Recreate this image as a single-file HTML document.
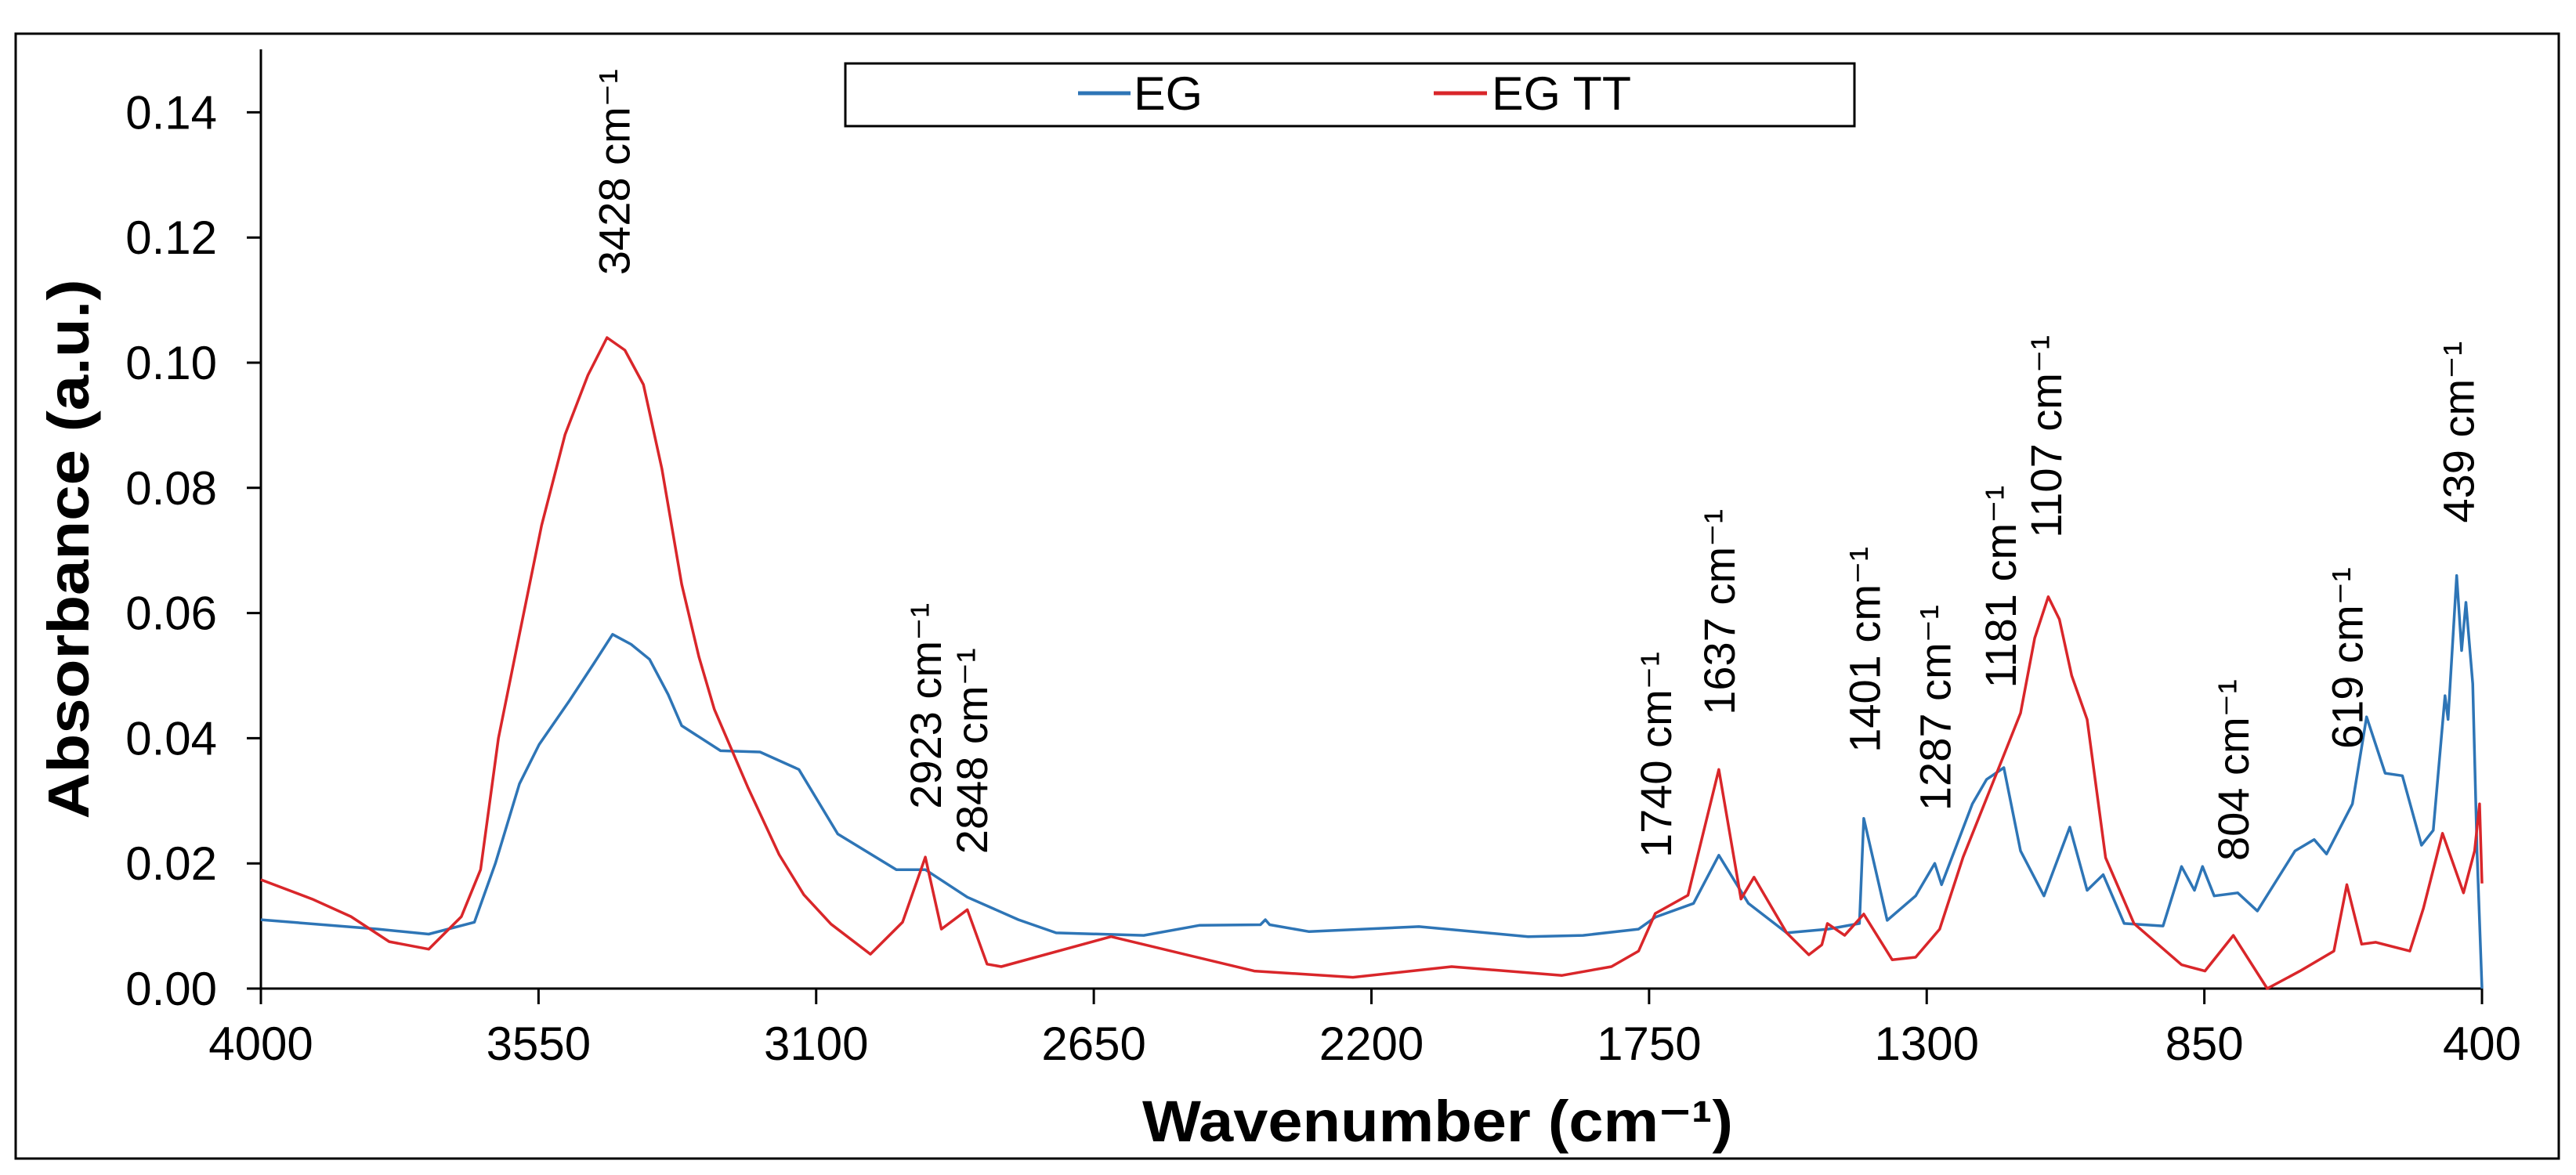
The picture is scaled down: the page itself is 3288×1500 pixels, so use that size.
<!DOCTYPE html>
<html><head><meta charset="utf-8"><style>
html,body{margin:0;padding:0;background:#fff;}
svg{display:block;font-family:"Liberation Sans",Arial,sans-serif;}
</style></head><body>
<svg id="chart" width="3288" height="1500" viewBox="0 0 3288 1500" xmlns="http://www.w3.org/2000/svg">
<rect x="20" y="43" width="3246" height="1436" fill="#fff" stroke="#000" stroke-width="3"/>
<g id="axes"></g>
<g id="series"></g>
<g id="annot"></g>
<g>
<rect x="1079" y="81" width="1288" height="80" fill="#fff" stroke="#000" stroke-width="3"/>
<line x1="1376" y1="119" x2="1443" y2="119" stroke="#2e75b6" stroke-width="5"/>
<text x="1447" y="140" font-size="60" textLength="88" lengthAdjust="spacingAndGlyphs">EG</text>
<line x1="1830" y1="119" x2="1898" y2="119" stroke="#d9262a" stroke-width="5"/>
<text x="1904" y="140" font-size="60" textLength="178" lengthAdjust="spacingAndGlyphs">EG TT</text>
</g>
<text transform="translate(113,701) rotate(-90)" text-anchor="middle" font-size="74" font-weight="bold" textLength="689" lengthAdjust="spacingAndGlyphs">Absorbance (a.u.)</text>
<text x="1458" y="1457" font-size="74" font-weight="bold" textLength="754" lengthAdjust="spacingAndGlyphs">Wavenumber (cm⁻¹)</text>
</svg>
<script>
const xTicks = [4000, 3550, 3100, 2650, 2200, 1750, 1300, 850, 400];
const yTicks = [0, 0.02, 0.04, 0.06, 0.08, 0.10, 0.12, 0.14];
const yTickLabels = ["0.00","0.02","0.04","0.06","0.08","0.10","0.12","0.14"];
const egWn = [4000,3810,3728,3654,3620,3581,3549,3500,3460,3430,3400,3370,3340,3318,3255,3191,3128,3065,2970,2923,2855,2772,2711,2569,2479,2380,2372,2365,2301,2123,1946,1857,1767,1740,1678,1637,1589,1527,1460,1409,1402,1364,1318,1287,1276,1226,1203,1175,1148,1110,1068,1040,1014,980,917,887,866,853,834,796,764,703,672,652,610,587,557,529,498,479,460,455,441,433,426,415,408,400];
const egVal = [0.011,0.0095,0.0087,0.0106,0.02,0.0327,0.039,0.046,0.052,0.0566,0.055,0.0526,0.047,0.042,0.038,0.0378,0.035,0.0247,0.019,0.019,0.0146,0.011,0.0089,0.0085,0.0101,0.0102,0.011,0.0102,0.0091,0.0099,0.0083,0.0085,0.0095,0.0114,0.0136,0.0213,0.0136,0.0089,0.0095,0.0104,0.0272,0.0109,0.0148,0.02,0.0166,0.0295,0.0334,0.0353,0.022,0.0148,0.0258,0.0157,0.0182,0.0104,0.01,0.0195,0.0157,0.0195,0.0148,0.0153,0.0124,0.022,0.0238,0.0215,0.0295,0.0434,0.0344,0.034,0.0229,0.0253,0.0468,0.043,0.066,0.054,0.0617,0.0487,0.0218,0.0];
const egttWn = [4000,3917,3854,3792,3728,3675,3644,3615,3581,3545,3507,3470,3439,3410,3380,3350,3318,3290,3265,3210,3160,3120,3076,3012,2960,2923,2897,2855,2823,2800,2622,2390,2230,2070,1891,1811,1767,1740,1687,1637,1601,1580,1527,1491,1470,1461,1433,1402,1356,1318,1279,1241,1179,1148,1125,1103,1085,1065,1040,1010,964,887,849,803,748,695,640,619,595,572,517,495,464,430,412,404,400];
const egttVal = [0.0174,0.0143,0.0115,0.0075,0.0063,0.0115,0.019,0.04,0.0566,0.074,0.0885,0.098,0.104,0.102,0.0965,0.083,0.0646,0.053,0.0446,0.032,0.0214,0.015,0.0103,0.0055,0.0106,0.021,0.0095,0.0126,0.0039,0.0035,0.0083,0.0028,0.0018,0.0035,0.0021,0.0035,0.006,0.012,0.0149,0.035,0.0143,0.0178,0.0089,0.0054,0.007,0.0104,0.0085,0.0119,0.0046,0.005,0.0095,0.021,0.0363,0.044,0.056,0.0626,0.059,0.05,0.043,0.0209,0.0104,0.0038,0.0028,0.0085,0.0,0.0028,0.006,0.0166,0.0071,0.0074,0.006,0.0128,0.0248,0.0153,0.022,0.0295,0.0168];
const peakLabels = ["3428 cm⁻¹","2923 cm⁻¹","2848 cm⁻¹","1740 cm⁻¹","1637 cm⁻¹","1401 cm⁻¹","1287 cm⁻¹","1181 cm⁻¹","1107 cm⁻¹","804 cm⁻¹","619 cm⁻¹","439 cm⁻¹"];
const peakWn = [3428,2923,2848,1740,1637,1401,1287,1181,1107,804,619,439];
const peakTopVal = [0.114,0.0287,0.0215,0.0209,0.0437,0.0377,0.0284,0.048,0.0720,0.0204,0.0383,0.0744];

const NS = "http://www.w3.org/2000/svg";
const X0 = 333, X1 = 3168, Y0 = 1262, YPER = 7990;
function xs(w){ return X0 + (4000 - w) / 3600 * (X1 - X0); }
function ys(v){ return Y0 - v * YPER; }
function mk(tag, attrs, parent){ const e = document.createElementNS(NS, tag); for (const k in attrs) e.setAttribute(k, attrs[k]); parent.appendChild(e); return e; }

const axes = document.getElementById('axes');
const yAxis = mk('line', {x1:X0, y1:63, x2:X0, y2:Y0, stroke:'#000','stroke-width':3}, axes);


const xAxis = mk('line', {x1:X0, y1:Y0, x2:X1, y2:Y0, stroke:'#000','stroke-width':3}, axes);


xTicks.forEach((t) => {
  const x = xs(t);
  const tk = mk('line', {x1:x, y1:Y0, x2:x, y2:Y0+20, stroke:'#000','stroke-width':3}, axes);
  
  
  const lb = mk('text', {x:x, y:Y0+91, 'text-anchor':'middle','font-size':60}, axes);
  
  
  lb.textContent = String(t);
});
yTicks.forEach((t, i) => {
  const y = ys(t);
  const tk = mk('line', {x1:X0-18, y1:y, x2:X0, y2:y, stroke:'#000','stroke-width':3}, axes);
  
  
  const lb = mk('text', {x:277, y:y+21, 'text-anchor':'end','font-size':60}, axes);
  
  
  lb.textContent = yTickLabels[i];
});

const series = document.getElementById('series');
function drawLine(wn, val, color, name){
  const d = wn.map((w, i) => (i ? 'L' : 'M') + xs(w).toFixed(1) + ',' + ys(val[i]).toFixed(1)).join(' ');
  const p = mk('path', {d:d, fill:'none', stroke:color, 'stroke-width':3.5, 'stroke-linejoin':'round'}, series);
  
  
}
drawLine(egWn, egVal, '#2e75b6', 'eg-line');
drawLine(egttWn, egttVal, '#d9262a', 'eg-tt-line');

const annot = document.getElementById('annot');
peakWn.forEach((w, i) => {
  const x = xs(w), y = ys(peakTopVal[i]);
  const t = mk('text', {transform:'translate(' + (x + 20).toFixed(1) + ',' + y.toFixed(1) + ') rotate(-90)', 'font-size':56}, annot);
  
  
  t.textContent = peakLabels[i];
});
</script>
</body></html>
